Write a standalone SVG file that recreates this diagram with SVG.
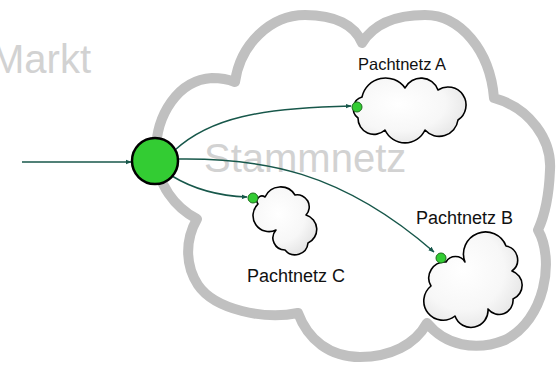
<svg xmlns="http://www.w3.org/2000/svg" width="556" height="368" viewBox="0 0 556 368">
<style>
.bigtxt{font-family:"Liberation Sans",Arial,sans-serif;font-size:40px;fill:#d2d2d2}
.lbl{font-family:"Liberation Sans",Arial,sans-serif;fill:#111}
.conn{fill:none;stroke:#17574a;stroke-width:1.5}
.small{fill:url(#cg);stroke:#000;stroke-width:1.6;stroke-linejoin:round}
.dot{fill:#33cc33;stroke:#1e6e1e;stroke-width:1}
</style>
<defs>
<radialGradient id="cg" cx="0.4" cy="0.4" r="0.7">
<stop offset="0" stop-color="#ffffff"/>
<stop offset="0.6" stop-color="#f7f7f7"/>
<stop offset="1" stop-color="#e2e2e2"/>
</radialGradient>
<marker id="ah" viewBox="0 0 10 10" refX="9" refY="5" markerWidth="6" markerHeight="6" orient="auto" markerUnits="userSpaceOnUse">
<path d="M0,1 L10,5 L0,9 Z" fill="#17574a"/>
</marker>
</defs>
<rect width="556" height="368" fill="#fff"/>
<g id="stammnetz">
<path d="M197,219 C176,208 156,185 156,152 C156,115 178,80 212,78 C222,78 230,80 235,82 C240,45 270,15 305,15 C335,15 355,25 362,43 C375,22 400,15 425,15 C460,15 490,50 494,98 C530,108 552,140 550,170 C549,195 545,215 538,230 C555,260 545,320 505,340 C475,352 445,345 427,323 C415,345 390,357 360,357 C330,357 308,340 298,313 C265,320 215,310 198,285 C185,265 185,240 197,219 Z" fill="#fff" stroke="#c0c0c0" stroke-width="10" stroke-linejoin="round"/>
<text class="bigtxt" x="204" y="172">Stammnetz</text>
</g>
<g id="markt">
<text class="bigtxt" x="-9" y="73">Markt</text>
</g>
<g id="pachtnetzA">
<path class="small" d="M362,97 A24,24 0 0 1 405,88 A18,18 0 0 1 438,90 A18,18 0 0 1 458,120 A19,19 0 0 1 425,130 A22,22 0 0 1 385,130 A16,16 0 0 1 358,118 A12,12 0 0 1 362,97 Z"/>
<circle class="dot" cx="357" cy="107" r="5"/>
<text class="lbl" x="358" y="70" font-size="16.5">Pachtnetz A</text>
</g>
<g id="pachtnetzB">
<path class="small" d="M446,262 A11,11 0 0 1 465,262 A21,21 0 1 1 506,246 A14,14 0 0 1 512,271 A15,15 0 0 1 513,299 A14,14 0 0 1 488,309 A17,17 0 0 1 455,316 A19,19 0 0 1 431,286 A16,16 0 0 1 446,262 Z"/>
<circle class="dot" cx="441" cy="258" r="5"/>
<text class="lbl" x="416" y="224" font-size="18">Pachtnetz B</text>
</g>
<g id="pachtnetzC">
<path class="small" d="M265,197 A17,17 0 0 1 295,195 A12,12 0 0 1 306,215 A15,15 0 0 1 308,243 A13,13 0 0 1 285,250 A12,12 0 0 1 276,230 A16,16 0 0 1 258,204 A5,5 0 0 1 265,197 Z"/>
<circle class="dot" cx="253" cy="198" r="5"/>
<text class="lbl" x="247" y="282" font-size="18">Pachtnetz C</text>
</g>
<g id="connectors">
<path class="conn" d="M22,162 L131,162" marker-end="url(#ah)"/>
<path class="conn" d="M175,150 C210,118 260,108 351,106" marker-end="url(#ah)"/>
<path class="conn" d="M179,159 C260,158 340,170 434,252" marker-end="url(#ah)"/>
<path class="conn" d="M172,176 C195,190 220,196 247,197" marker-end="url(#ah)"/>
</g>
<g id="hub">
<circle cx="155" cy="161" r="23" fill="#33cc33" stroke="#000" stroke-width="2.5"/>
</g>
</svg>
